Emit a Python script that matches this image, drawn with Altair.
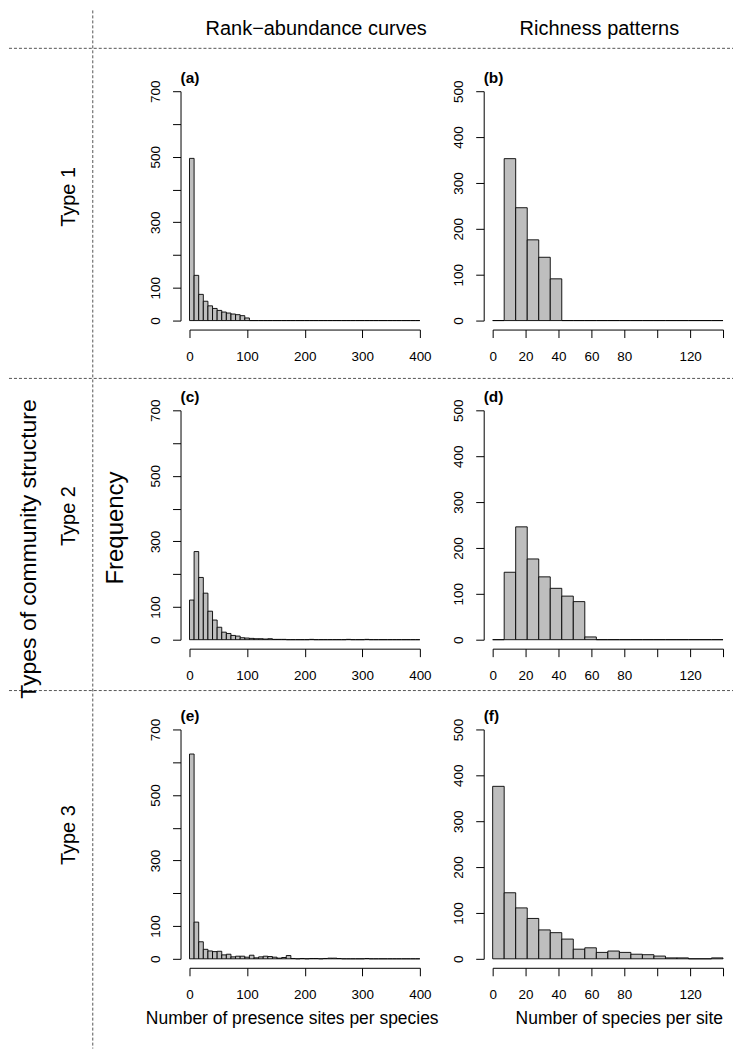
import altair as alt
import pandas as pd

FONT = "Liberation Sans"

# ---------------- data ----------------
left_bin_width = 8
left_xmax = 400
left_ymax = 700
right_bin_width = 7
right_xmax = 140
right_ymax = 500

counts_a = [495, 138, 80, 59, 45, 37, 31, 26, 23, 20, 18, 15, 8]
counts_c = [121, 269, 190, 142, 87, 60, 38, 23, 19, 13, 11, 6, 5, 4, 3, 3, 2, 3, 1, 1,
            1, 0, 0, 0, 0, 0, 1, 0, 0, 0, 0, 0, 0, 0, 1, 0, 0, 0, 1]
counts_e = [625, 112, 52, 29, 24, 22, 23, 12, 14, 6, 8, 8, 5, 11, 3, 6, 8, 7, 5, 2,
            4, 10, 1, 0, 1, 0, 1, 1, 0, 1, 2, 2, 1, 0, 0, 0, 0, 0, 1]
counts_b = [0, 353, 246, 176, 138, 91]
counts_d = [0, 147, 246, 176, 137, 112, 95, 83, 6]
counts_f = [376, 144, 111, 88, 63, 57, 43, 21, 24, 14, 17, 14, 10, 9, 6, 2, 2, 0, 0, 2]

left_xticks = [0, 100, 200, 300, 400]
left_xlabels = [0, 100, 200, 300, 400]
left_yticks = [0, 100, 200, 300, 400, 500, 600, 700]
left_ylabels = [0, 100, 300, 500, 700]
right_xticks = [0, 20, 40, 60, 80, 100, 120, 140]
right_xlabels = [0, 20, 40, 60, 80, 120]
right_yticks = [0, 100, 200, 300, 400, 500]
right_ylabels = [0, 100, 200, 300, 400, 500]

panel_labels = ["(a)", "(b)", "(c)", "(d)", "(e)", "(f)"]
col_titles = ["Rank\u2212abundance curves", "Richness patterns"]
row_titles = ["Type 1", "Type 2", "Type 3"]
outer_title = "Types of community structure"
y_title = "Frequency"
x_titles = ["Number of presence sites per species", "Number of species per site"]

PW, PH = 231, 230


def hist_df(counts, width, xmax):
    n = int(round(xmax / width))
    c = list(counts) + [0] * (n - len(counts))
    return pd.DataFrame({
        "start": [i * width for i in range(n)],
        "end": [(i + 1) * width for i in range(n)],
        "count": c,
        "zero": [0] * n,
    })


def shown_expr(vals):
    return "indexof([" + ",".join(str(v) for v in vals) + "], datum.value) >= 0 ? datum.label : ''"


def one(text):
    return pd.DataFrame({"t": [text]})


def text_layer(text, x, y, size, angle=0, weight="normal", align="center", baseline="middle"):
    kw = dict(align=align, baseline=baseline, font=FONT, fontSize=size,
              fontWeight=weight, color="black")
    if angle:
        kw["angle"] = angle
    return alt.Chart(one(text)).mark_text(**kw).encode(
        x=alt.value(x), y=alt.value(y), text="t:N")


def panel(counts, width, xmax, ymax, xticks, xlabels, yticks, ylabels, label, extra=()):
    df = hist_df(counts, width, xmax)
    common = dict(grid=False, tickSize=8, tickColor="black", tickWidth=1,
                  domainColor="black", domainWidth=1, labelFont=FONT,
                  labelFontSize=13.5, labelColor="black", labelOverlap=False,
                  labelFlush=False, offset=9)
    xaxis = alt.Axis(title=None, values=xticks, labelExpr=shown_expr(xlabels),
                     labelPadding=12, **common)
    yaxis = alt.Axis(title=None, values=yticks, labelExpr=shown_expr(ylabels),
                     labelAngle=270, labelAlign="center", labelBaseline="alphabetic",
                     labelPadding=13, **common)
    bars = alt.Chart(df).mark_rect(fill="#BEBEBE", stroke="#000000", strokeWidth=0.9).encode(
        x=alt.X("start:Q", scale=alt.Scale(domain=[0, xmax], nice=False, zero=False), axis=xaxis),
        x2="end:Q",
        y=alt.Y("count:Q", scale=alt.Scale(domain=[0, ymax], nice=False), axis=yaxis),
        y2="zero:Q",
    )
    lab = text_layer(label, -9, -13, 15.5, weight="bold", align="left")
    return alt.layer(bars, lab, *extra).properties(width=PW, height=PH)


# decorations, positioned relative to panel (a)'s plot area
dash = dict(color="#555555", strokeDash=[3, 2], strokeWidth=1)
deco = [
    alt.Chart(one("v")).mark_rule(**dash).encode(x=alt.value(-97), y=alt.value(-81), y2=alt.value(960)),
    alt.Chart(one("h1")).mark_rule(**dash).encode(x=alt.value(-181), x2=alt.value(545), y=alt.value(-43)),
    alt.Chart(one("h2")).mark_rule(**dash).encode(x=alt.value(-181), x2=alt.value(545), y=alt.value(288)),
    alt.Chart(one("h3")).mark_rule(**dash).encode(x=alt.value(-181), x2=alt.value(545), y=alt.value(601)),
    text_layer(col_titles[0], 127, -62, 20),
    text_layer(col_titles[1], 411, -62, 20),
    text_layer(row_titles[0], -121, 106, 20, angle=270),
    text_layer(row_titles[1], -121, 426, 20, angle=270),
    text_layer(row_titles[2], -121, 746, 20, angle=270),
    text_layer(outer_title, -161, 459, 23, angle=270),
    text_layer(y_title, -74, 438, 24, angle=270),
    text_layer(x_titles[0], 103, 930, 17.5),
    text_layer(x_titles[1], 431, 930, 17.5),
]

pa = panel(counts_a, left_bin_width, left_xmax, left_ymax, left_xticks, left_xlabels,
           left_yticks, left_ylabels, panel_labels[0], deco)
pb = panel(counts_b, right_bin_width, right_xmax, right_ymax, right_xticks, right_xlabels,
           right_yticks, right_ylabels, panel_labels[1])
pc = panel(counts_c, left_bin_width, left_xmax, left_ymax, left_xticks, left_xlabels,
           left_yticks, left_ylabels, panel_labels[2])
pd_ = panel(counts_d, right_bin_width, right_xmax, right_ymax, right_xticks, right_xlabels,
            right_yticks, right_ylabels, panel_labels[3])
pe = panel(counts_e, left_bin_width, left_xmax, left_ymax, left_xticks, left_xlabels,
           left_yticks, left_ylabels, panel_labels[4])
pf = panel(counts_f, right_bin_width, right_xmax, right_ymax, right_xticks, right_xlabels,
           right_yticks, right_ylabels, panel_labels[5])

chart = alt.concat(pa, pb, pc, pd_, pe, pf, columns=2,
                   spacing={"row": 90, "column": 73}, bounds="flush").properties(
    padding=0, background="white"
).configure_view(stroke="transparent")

chart.save("out.html", embed_options={"renderer": "svg", "actions": False})
